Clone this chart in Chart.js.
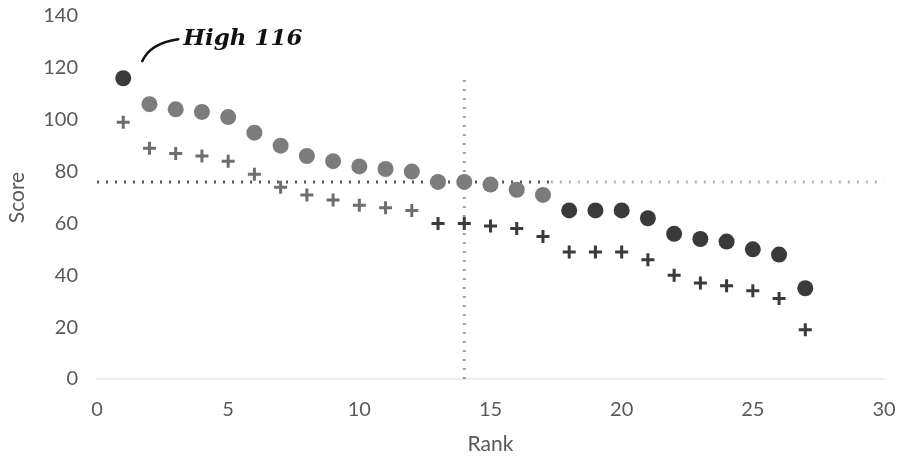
<!DOCTYPE html>
<html>
<head>
<meta charset="utf-8">
<script src="https://cdn.jsdelivr.net/npm/chart.js@4/dist/chart.umd.min.js"></script>
<style>
  html, body { margin: 0; padding: 0; background: #fff; }
  #wrap { width: 907px; height: 465px; }
</style>
</head>
<body>
<div id="wrap"><canvas id="chart"></canvas></div>
<script>
const ranks = [1,2,3,4,5,6,7,8,9,10,11,12,13,14,15,16,17,18,19,20,21,22,23,24,25,26,27]
const scores = [116,106,104,103,101,95,90,86,84,82,81,80,76,76,75,73,71,65,65,65,62,56,54,53,50,48,35]
const otherScores = [99,89,87,86,84,79,74,71,69,67,66,65,60,60,59,58,55,49,49,49,46,40,37,36,34,31,19]
const xTicks = [0,5,10,15,20,25,30]
const yTicks = [0,20,40,60,80,100,120,140]
const medianScore = 76
const medianRank = 14
const highLabel = 'High 116'

const dark = '#3a3a3a'
const mid = '#7c7c7c'

const circleColors = ranks.map(r => (r == 1 || r >= 18) ? dark : mid)
const crossColors = ranks.map(r => r >= 13 ? dark : '#6e6e6e')

const annotate = {
    id: 'annotate',
    afterDatasetsDraw(chart) {
        const { ctx, scales } = chart
        const px = scales.x.getPixelForValue(ranks[0])
        const py = scales.y.getPixelForValue(scores[0])
        ctx.save()
        ctx.strokeStyle = '#111'
        ctx.lineWidth = 2.5
        ctx.lineCap = 'round'
        ctx.beginPath()
        ctx.moveTo(px + 19, py - 17)
        ctx.quadraticCurveTo(px + 27, py - 35, px + 55, py - 39)
        ctx.stroke()
        ctx.fillStyle = '#111'
        ctx.font = 'italic 600 23px "DejaVu Serif"'
        ctx.textBaseline = 'alphabetic'
        ctx.fillText(highLabel, px + 60, py - 33)
        ctx.restore()
    }
}

const ctx = document.getElementById('chart').getContext('2d')
const chart = new Chart(ctx, {
    type: 'scatter',
    data: {
        datasets: [
            {
                label: 'median score',
                type: 'line',
                data: [{ x: 0, y: medianScore }, { x: 17.3, y: medianScore }],
                borderColor: '#555',
                borderWidth: 3,
                borderDash: [2, 7],
                pointRadius: 0,
                order: 3
            },
            {
                label: 'median score (light)',
                type: 'line',
                data: [{ x: 17.3, y: medianScore }, { x: 30.2, y: medianScore }],
                borderColor: '#b5b5b5',
                borderWidth: 3,
                borderDash: [2, 7],
                pointRadius: 0,
                order: 3
            },
            {
                label: 'median rank',
                type: 'line',
                data: [{ x: medianRank, y: 0 }, { x: medianRank, y: 117 }],
                borderColor: '#a0a0a0',
                borderWidth: 3,
                borderDash: [2, 7],
                pointRadius: 0,
                order: 3
            },
            {
                label: 'Score',
                data: ranks.map((r, i) => ({ x: r, y: scores[i] })),
                pointStyle: 'circle',
                pointRadius: 8,
                pointBackgroundColor: circleColors,
                pointBorderColor: circleColors,
                pointBorderWidth: 0,
                order: 1
            },
            {
                label: 'Other',
                data: ranks.map((r, i) => ({ x: r, y: otherScores[i] })),
                pointStyle: 'cross',
                pointRadius: 6.5,
                pointBorderColor: crossColors,
                pointBorderWidth: 3,
                order: 2
            }
        ]
    },
    options: {
        responsive: true,
        maintainAspectRatio: false,
        animation: false,
        layout: { padding: 0 },
        plugins: {
            legend: { display: false },
            tooltip: { enabled: false }
        },
        scales: {
            x: {
                type: 'linear',
                min: 0,
                max: 30,
                afterBuildTicks: axis => { axis.ticks = xTicks.map(v => ({ value: v })) },
                afterFit: axis => {
                    axis.height = 86
                    axis.paddingLeft = 0
                    axis.paddingRight = 23
                },
                grid: { display: false, drawTicks: false },
                border: { display: true, color: '#eeeeee', width: 2 },
                ticks: { color: '#595959', font: { family: 'Lato', size: 20 }, padding: 19 },
                title: { display: true, text: 'Rank', color: '#595959', font: { family: 'Lato', size: 21 }, padding: { top: 8, bottom: 8 } }
            },
            y: {
                min: 0,
                max: 140,
                afterBuildTicks: axis => { axis.ticks = yTicks.map(v => ({ value: v })) },
                afterFit: axis => {
                    axis.width = 97
                    axis.paddingTop = 16
                    axis.paddingBottom = 0
                },
                grid: { display: false, drawTicks: false },
                border: { display: false },
                ticks: { color: '#595959', font: { family: 'Lato', size: 20 }, padding: 19 },
                title: { display: true, text: 'Score', color: '#595959', font: { family: 'Lato', size: 21 }, padding: { top: 5, bottom: 5 } }
            }
        }
    },
    plugins: [annotate]
})
</script>
</body>
</html>
